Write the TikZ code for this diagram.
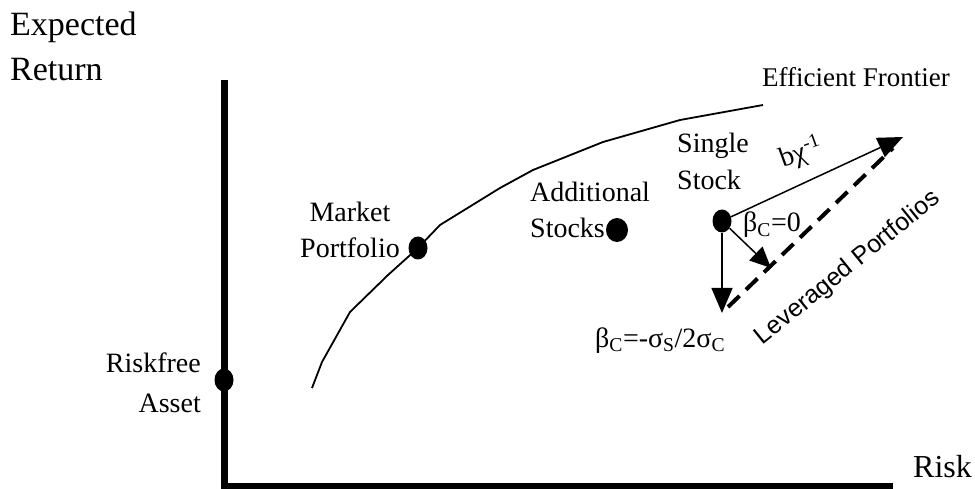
\documentclass[tikz,border=0pt]{standalone}
\usepackage{fontspec}
\setmainfont{Liberation Serif}
\newfontfamily\levfont{Liberation Sans}
\usetikzlibrary{arrows.meta,shapes.geometric}

\begin{document}
\begin{tikzpicture}[
    x=1pt, y=-1pt,
    lbl/.style={
        font=\fontsize{28}{36}\selectfont,
        inner sep=0pt
    },
    dot/.style={
        ellipse,
        fill,
        inner sep=0pt,
        minimum width=19pt,
        minimum height=23pt
    },
    axis/.style={line width=7pt},
    frontier/.style={line width=1.8pt, line join=round},
    arrow/.style={-{Triangle[length=25pt,width=21pt]}, line width=1.5pt},
    levline/.style={line width=4pt, dash pattern=on 16pt off 9pt}
]
\useasboundingbox (0,0) rectangle (975,489);

% Axes
\coordinate (ytop) at (224,80);
\coordinate (orig) at (224,486);
\coordinate (xend) at (893,486);
\draw[axis] (ytop) -- (orig) -- (xend);

% Axis titles
\node[lbl, font=\fontsize{34}{45}\selectfont, align=left, anchor=base west] (ylab) at (10,81) {Expected\\Return};
\node[lbl, font=\fontsize{32}{40}\selectfont, anchor=base west] (xlab) at (913,477) {Risk};

% Efficient frontier
\draw[frontier] (312,388) -- (322,362) -- (350,312) -- (388,275) -- (418,248)
    -- (440,225) -- (500,188) -- (533,170) -- (603,142) -- (680,120) -- (763,105);
\node[lbl, font=\fontsize{27}{36}\selectfont, anchor=base west] (eflab) at (762,87) {Efficient Frontier};

% Portfolios
\node[dot] (rf) at (224,380) {};
\node[dot] (mkt) at (418,248) {};
\node[dot, minimum width=22pt, minimum height=24pt] (add) at (617,230) {};
\node[dot] (single) at (722,221) {};

\node[lbl, font=\fontsize{28}{40}\selectfont, align=right, anchor=base east] (rflab) at (201,412) {Riskfree\\Asset};
\node[lbl, align=center, anchor=base] (mktlab) at (350,258) {Market\\Portfolio};
\node[lbl, align=left, anchor=base west] (addlab) at (530,238) {Additional\\Stocks};
\node[lbl, font=\fontsize{28}{37}\selectfont, align=left, anchor=base west] (singlelab) at (677,190) {Single\\Stock};

% Arrows from the single stock
\coordinate (bchi) at (903,137);
\coordinate (bzero) at (771,268);
\coordinate (bneg) at (722,313);
\draw[arrow] (single) -- (bchi);
\draw[arrow, -{Triangle[length=21pt,width=19pt]}] (single) -- (bzero);
\draw[arrow] (single) -- (bneg);

\node[lbl, rotate=20] (bchilab) at (801,153) {bχ\textsuperscript{-1}};
\node[lbl, anchor=base west] (bzerolab) at (743,232) {β\textsubscript{C}=0};
\node[lbl, anchor=base west] (bneglab) at (595,347) {β\textsubscript{C}=-σ\textsubscript{S}/2σ\textsubscript{C}};

% Leveraged portfolios
\coordinate (levA) at (728,307);
\coordinate (levB) at (893,148);
\draw[levline] (levA) -- (levB);
\node[inner sep=0pt, font=\levfont\fontsize{25}{28}\selectfont, rotate=39] (levlab) at (848,268) {Leveraged Portfolios};

\end{tikzpicture}
\end{document}
